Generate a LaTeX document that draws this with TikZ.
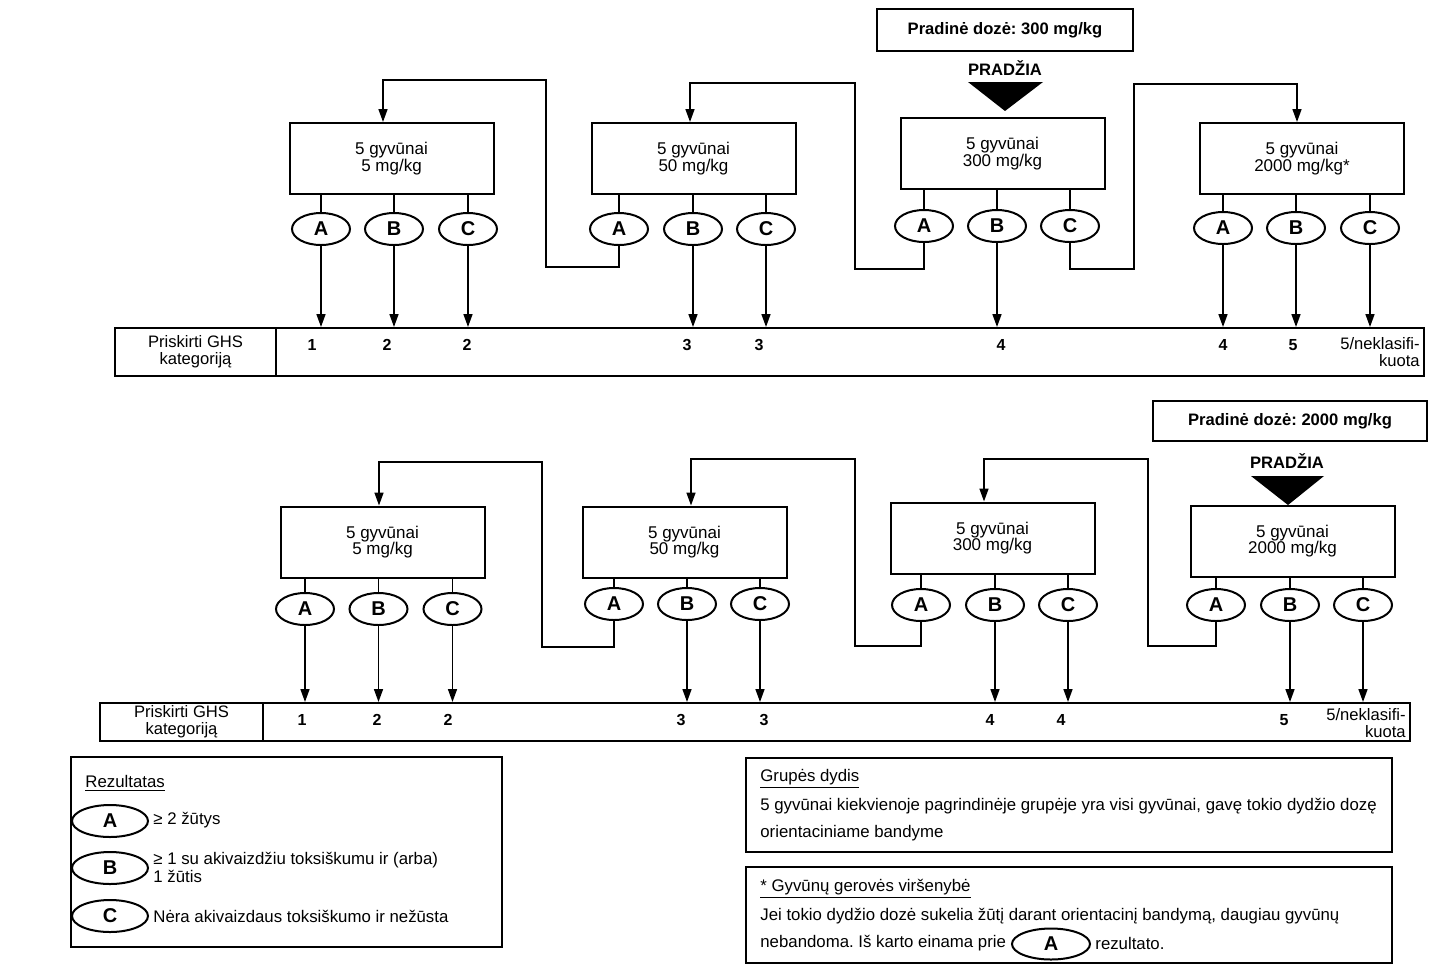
\documentclass[tikz,border=0pt]{standalone}
\usepackage{fontspec}
\setmainfont{Liberation Sans}
\usetikzlibrary{arrows.meta,shapes.geometric}
\begin{document}
\frenchspacing
\begin{tikzpicture}[x=0.5pt,y=-0.5pt,
  dosebox/.style={draw, line width=1pt, minimum width=102pt, minimum height=35.5pt, align=center, inner sep=0pt, font=\fontsize{8.5}{8.2}\selectfont},
  res/.style={draw, ellipse, line width=1pt, minimum width=29pt, minimum height=16pt, inner sep=0pt, font=\fontsize{10}{10}\selectfont\bfseries},
  lres/.style={res, minimum width=38pt},
  conn/.style={line width=0.8pt},
  arr/.style={conn, -{Triangle[length=6.5pt,width=4.5pt]}},
  cell/.style={draw, line width=1pt, inner sep=0pt, align=center, font=\fontsize{8.3}{8.5}\selectfont},
  catnum/.style={inner sep=0pt, font=\fontsize{8}{8}\selectfont\bfseries},
  startbox/.style={draw, line width=1pt, inner sep=0pt, font=\fontsize{8.3}{8.3}\selectfont\bfseries},
  starttxt/.style={inner sep=0pt, font=\fontsize{8.3}{8.3}\selectfont\bfseries},
  legbox/.style={draw, line width=1pt, inner sep=0pt},
  legtxt/.style={anchor=west, inner sep=0pt, align=left, font=\fontsize{8.4}{9}\selectfont},
  startri/.style={fill=black}
]
\fill[white] (0,0) rectangle (1430,965);
\useasboundingbox (0,0) rectangle (1430,965);

% ================= TOP SECTION =================
\node[startbox, minimum width=128pt, minimum height=21pt] (st1) at (1005,30) {Pradinė dozė: 300 mg/kg};
\node[starttxt] (pr1) at (1005,68) {PRADŽIA};
\fill[startri] (968,82) -- (1043,82) -- (1005,111) -- cycle;

\node[dosebox] (b1) at (391.5,158.5) {5 gyvūnai\\5 mg/kg};
\node[dosebox] (b2) at (693.5,158.5) {5 gyvūnai\\50 mg/kg};
\node[dosebox] (b3) at (1002.5,153.5) {5 gyvūnai\\300 mg/kg};
\node[dosebox] (b4) at (1302,158.5) {5 gyvūnai\\2000 mg/kg*};

\node[res] (e1A) at (321,229) {A};
\node[res] (e1B) at (394,229) {B};
\node[res] (e1C) at (468,229) {C};
\node[res] (e2A) at (619,229) {A};
\node[res] (e2B) at (693,229) {B};
\node[res] (e2C) at (766,229) {C};
\node[res] (e3A) at (924,226) {A};
\node[res] (e3B) at (997,226) {B};
\node[res] (e3C) at (1070,226) {C};
\node[res] (e4A) at (1223,228) {A};
\node[res] (e4B) at (1296,228) {B};
\node[res] (e4C) at (1370,228) {C};

\node[cell, minimum width=80.5pt, minimum height=24pt] (lab1) at (195.5,352) {Priskirti GHS\\kategoriją};
\node[cell, minimum width=574pt, minimum height=24pt] (val1) at (850,352) {};

\foreach \b/\e in {b1/e1A,b1/e1B,b1/e1C,b2/e2A,b2/e2B,b2/e2C,b3/e3A,b3/e3B,b3/e3C,b4/e4A,b4/e4B,b4/e4C}
  \draw[conn] (\b.south -| \e.north) -- (\e.north);
\foreach \e in {e1A,e1B,e1C,e2B,e2C,e3B,e4A,e4B,e4C}
  \draw[arr] (\e.south) -- (\e.south |- val1.north);

\coordinate (k1) at (546,267);
\coordinate (k2) at (383,80);
\coordinate (k3) at (855,269);
\coordinate (k4) at (690,83);
\coordinate (k5) at (1134,269);
\coordinate (k6) at (1297,84);
\draw[arr] (e2A.south) |- (k1) |- (k2) -- (k2 |- b1.north);
\draw[arr] (e3A.south) |- (k3) |- (k4) -- (k4 |- b2.north);
\draw[arr] (e3C.south) |- (k5) |- (k6) -- (k6 |- b4.north);

\node[catnum] (n1) at (312,345) {1};
\node[catnum] (n2) at (387,345) {2};
\node[catnum] (n3) at (467,345) {2};
\node[catnum] (n4) at (687,345) {3};
\node[catnum] (n5) at (759,345) {3};
\node[catnum] (n6) at (1001,345) {4};
\node[catnum] (n7) at (1223,345) {4};
\node[catnum] (n8) at (1293,345) {5};
\node[inner sep=0pt, anchor=east, align=right, font=\fontsize{8.3}{8.5}\selectfont] (n9) at (1420,352.5) {5/neklasifi-\\kuota};

% ================= BOTTOM SECTION =================
\node[startbox, minimum width=137pt, minimum height=20pt] (st2) at (1290,421) {Pradinė dozė: 2000 mg/kg};
\node[starttxt] (pr2) at (1287,461) {PRADŽIA};
\fill[startri] (1251,476) -- (1324,476) -- (1288,505) -- cycle;

\node[dosebox] (b5) at (382.5,542) {5 gyvūnai\\5 mg/kg};
\node[dosebox] (b6) at (684.5,542) {5 gyvūnai\\50 mg/kg};
\node[dosebox] (b7) at (992.5,538) {5 gyvūnai\\300 mg/kg};
\node[dosebox] (b8) at (1292.5,541) {5 gyvūnai\\2000 mg/kg};

\node[res] (e5A) at (305,609) {A};
\node[res] (e5B) at (378.5,609) {B};
\node[res] (e5C) at (452.5,609) {C};
\node[res] (e6A) at (614,604) {A};
\node[res] (e6B) at (687,604) {B};
\node[res] (e6C) at (760,604) {C};
\node[res] (e7A) at (921,605) {A};
\node[res] (e7B) at (995,605) {B};
\node[res] (e7C) at (1068,605) {C};
\node[res] (e8A) at (1216,605) {A};
\node[res] (e8B) at (1290,605) {B};
\node[res] (e8C) at (1363,605) {C};

\node[cell, minimum width=81.5pt, minimum height=19pt] (lab2) at (181.5,722) {Priskirti GHS\\kategoriją};
\node[cell, minimum width=573.5pt, minimum height=19pt] (val2) at (836.5,722) {};

\foreach \b/\e in {b5/e5A,b5/e5B,b5/e5C,b6/e6A,b6/e6B,b6/e6C,b7/e7A,b7/e7B,b7/e7C,b8/e8A,b8/e8B,b8/e8C}
  \draw[conn] (\b.south -| \e.north) -- (\e.north);
\foreach \e in {e5A,e5B,e5C,e6B,e6C,e7B,e7C,e8B,e8C}
  \draw[arr] (\e.south) -- (\e.south |- val2.north);

\coordinate (m1) at (542,647);
\coordinate (m2) at (379,462);
\coordinate (m3) at (855,646);
\coordinate (m4) at (691,459);
\coordinate (m5) at (1148,646);
\coordinate (m6) at (984,459);
\draw[arr] (e6A.south) |- (m1) |- (m2) -- (m2 |- b5.north);
\draw[arr] (e7A.south) |- (m3) |- (m4) -- (m4 |- b6.north);
\draw[arr] (e8A.south) |- (m5) |- (m6) -- (m6 |- b7.north);

\node[catnum] (p1) at (302,720) {1};
\node[catnum] (p2) at (377,720) {2};
\node[catnum] (p3) at (448,720) {2};
\node[catnum] (p4) at (681,720) {3};
\node[catnum] (p5) at (764,720) {3};
\node[catnum] (p6) at (990,720) {4};
\node[catnum] (p7) at (1061,720) {4};
\node[catnum] (p8) at (1284,720) {5};
\node[inner sep=0pt, anchor=east, align=right, font=\fontsize{8.3}{8.5}\selectfont] (p9) at (1406,723.5) {5/neklasifi-\\kuota};

% ================= LEGENDS =================
\node[legbox, minimum width=215.5pt, minimum height=95pt] (leg1) at (286.5,852) {};
\node[legtxt] (rez) at (85,783) {\underline{Rezultatas}};
\node[lres] (lA) at (110,821) {A};
\node[lres] (lB) at (110,868) {B};
\node[lres] (lC) at (110,916) {C};
\node[legtxt] (tA) at (153,820) {≥ 2 žūtys};
\node[legtxt] (tB) at (153,867) {≥ 1 su akivaizdžiu toksiškumu ir (arba)\\1 žūtis};
\node[legtxt] (tC) at (153,916) {Nėra akivaizdaus toksiškumo ir nežūsta};

\node[legbox, minimum width=323pt, minimum height=47pt] (leg2) at (1069,805) {};
\node[legtxt] (g1) at (760,779) {\underline{Grupės dydis}};
\node[legtxt] (g2) at (760,806) {5 gyvūnai kiekvienoje pagrindinėje grupėje yra visi gyvūnai, gavę tokio dydžio dozę};
\node[legtxt] (g3) at (760,833) {orientaciniame bandyme};

\node[legbox, minimum width=323pt, minimum height=48pt] (leg3) at (1069,915) {};
\node[legtxt] (h1) at (760,889) {\underline{* Gyvūnų gerovės viršenybė}};
\node[legtxt] (h2) at (760,916) {Jei tokio dydžio dozė sukelia žūtį darant orientacinį bandymą, daugiau gyvūnų};
\node[legtxt] (h3) at (760,943) {nebandoma. Iš karto einama prie};
\node[lres, minimum width=39pt, minimum height=15.5pt] (hA) at (1051,944) {A};
\node[legtxt] (h4) at (1095,943) {rezultato.};
\end{tikzpicture}
\end{document}
